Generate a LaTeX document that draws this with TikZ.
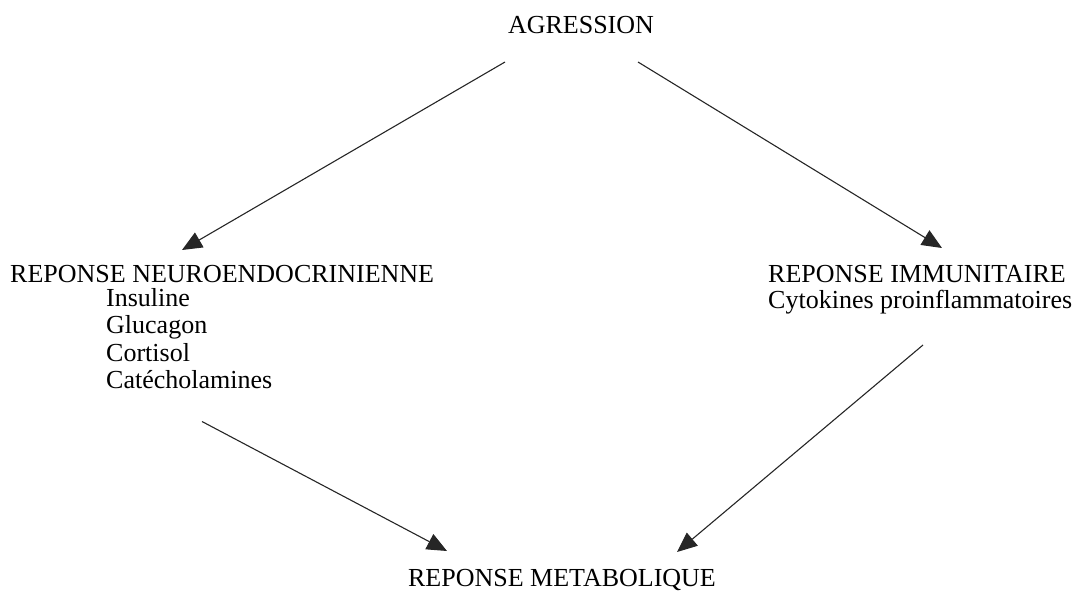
\documentclass[tikz,border=0pt]{standalone}
\usepackage{fontspec}
\setmainfont{Liberation Serif}
\usetikzlibrary{arrows.meta,calc}

\tikzset{
  lbl/.style={inner sep=0pt, font=\fontsize{26}{28}\selectfont},
  flow/.style={line width=1.1pt, black!85, -{Triangle[length=20pt,width=17pt]}},
}

\begin{document}
\begin{tikzpicture}[x=1pt, y=-1pt]
\useasboundingbox (0,0) rectangle (1087,598);

\node[lbl, anchor=base] (agr) at (581,33) {AGRESSION};

\node[lbl, anchor=base west] (neuro) at (10,282) {REPONSE NEUROENDOCRINIENNE};
\node[lbl, anchor=base west] (ins) at (106,306) {Insuline};
\node[lbl, anchor=base west] (glu) at (106,333.5) {Glucagon};
\node[lbl, anchor=base west] (cor) at (106,361) {Cortisol};
\node[lbl, anchor=base west] (cat) at (106,388.5) {Catécholamines};

\node[lbl, anchor=base west] (imm) at (768,282) {REPONSE IMMUNITAIRE};
\node[lbl, anchor=base west] (cyto) at (768,308) {Cytokines proinflammatoires};

\node[lbl, anchor=base] (meta) at (562,586) {REPONSE METABOLIQUE};

\draw[flow] ($(agr.base)+(-76,29)$) -- ($(neuro.base west)+(172,-32)$);
\draw[flow] ($(agr.base)+(57,29)$) -- ($(imm.base west)+(174,-34)$);
\draw[flow] ($(cat.base west)+(96,33)$) -- ($(meta.base)+(-115,-35)$);
\draw[flow] ($(cyto.base west)+(155,37)$) -- ($(meta.base)+(115,-34)$);

\end{tikzpicture}
\end{document}
